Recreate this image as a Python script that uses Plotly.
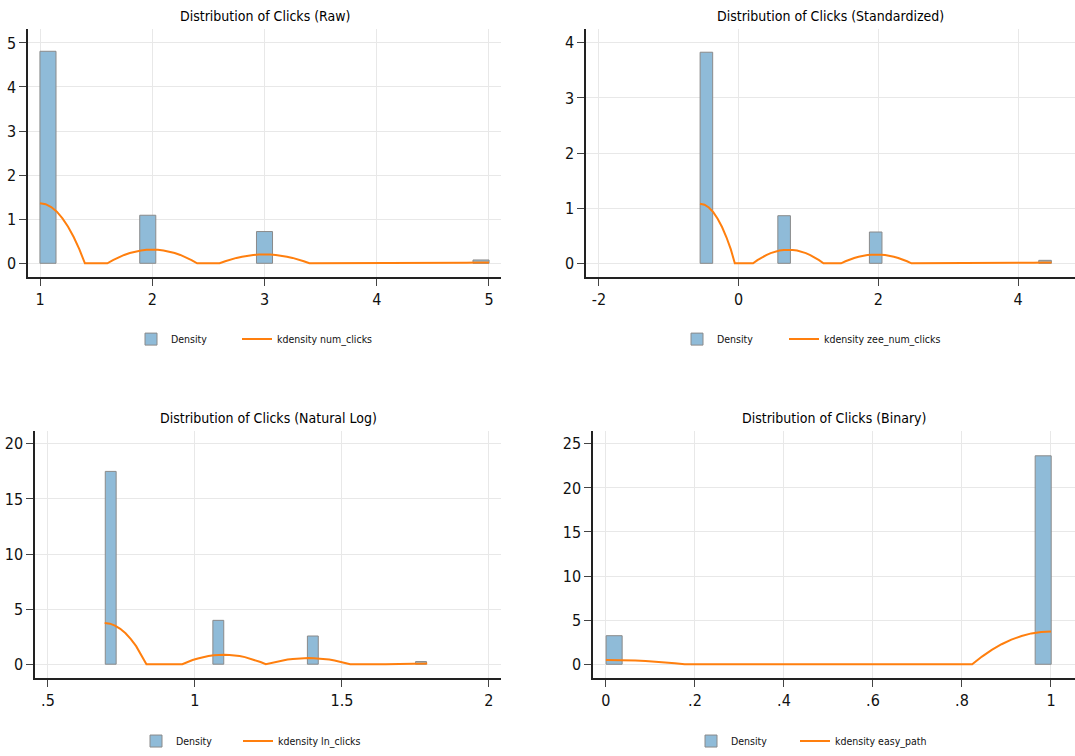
import plotly.graph_objects as go

# ---------------- data ----------------
# Panel 1: raw clicks
raw_bin_centers = [1.071, 1.96, 3.0, 4.929]
raw_bin_width = 0.143
raw_density = [4.81, 1.09, 0.72, 0.075]
raw_kde_x = [1.0, 1.05, 1.1, 1.15, 1.2, 1.25, 1.3, 1.35, 1.4,
             1.6, 1.65, 1.7, 1.75, 1.8, 1.85, 1.9, 1.95, 2.0, 2.05, 2.1, 2.15, 2.2, 2.25, 2.3, 2.35, 2.4,
             2.6, 2.65, 2.7, 2.75, 2.8, 2.85, 2.9, 2.95, 3.0, 3.05, 3.1, 3.15, 3.2, 3.25, 3.3, 3.35, 3.4,
             4.6, 4.7, 4.8, 4.9, 5.0]
raw_kde_y = [1.36, 1.34, 1.275, 1.17, 1.02, 0.83, 0.595, 0.32, 0.0,
             0.0, 0.073, 0.136, 0.189, 0.233, 0.266, 0.29, 0.305, 0.31, 0.305, 0.29, 0.266, 0.233, 0.189, 0.136, 0.073, 0.0,
             0.0, 0.047, 0.088, 0.122, 0.15, 0.172, 0.188, 0.197, 0.2, 0.197, 0.188, 0.172, 0.15, 0.122, 0.088, 0.047, 0.0,
             0.0, 0.009, 0.015, 0.019, 0.02]

# Panel 2: standardized clicks
std_bin_centers = [-0.462, 0.651, 1.962, 4.387]
std_bin_width = 0.18
std_density = [3.83, 0.864, 0.568, 0.054]
std_kde_x = [-0.553, -0.49, -0.427, -0.364, -0.301, -0.238, -0.175, -0.112, -0.055,
             0.206, 0.269, 0.332, 0.395, 0.458, 0.521, 0.584, 0.647, 0.71, 0.773, 0.836, 0.899, 0.962, 1.025, 1.088, 1.151, 1.214,
             1.466, 1.529, 1.592, 1.655, 1.718, 1.781, 1.844, 1.907, 1.97, 2.033, 2.096, 2.159, 2.222, 2.285, 2.348, 2.411, 2.474,
             3.976, 4.102, 4.228, 4.354, 4.48]
std_kde_y = [1.08, 1.063, 1.013, 0.928, 0.81, 0.658, 0.473, 0.253, 0.0,
             0.0, 0.058, 0.108, 0.15, 0.185, 0.211, 0.231, 0.242, 0.246, 0.242, 0.231, 0.211, 0.185, 0.15, 0.108, 0.058, 0.0,
             0.0, 0.037, 0.07, 0.097, 0.119, 0.137, 0.149, 0.156, 0.159, 0.156, 0.149, 0.137, 0.119, 0.097, 0.07, 0.037, 0.0,
             0.0, 0.007, 0.012, 0.015, 0.016]

# Panel 3: natural log of clicks
ln_bin_centers = [0.7135, 1.0795, 1.401, 1.769]
ln_bin_width = 0.037
ln_density = [17.5, 3.98, 2.56, 0.24]
ln_kde_x = [0.693, 0.711, 0.728, 0.746, 0.764, 0.782, 0.8, 0.817, 0.835,
            0.957, 0.975, 0.992, 1.01, 1.028, 1.046, 1.064, 1.081, 1.099, 1.117, 1.135, 1.152, 1.17, 1.188, 1.206, 1.223, 1.241,
            1.262, 1.279, 1.297, 1.315, 1.333, 1.351, 1.368, 1.386, 1.404, 1.422, 1.439, 1.457, 1.475, 1.493, 1.51, 1.528,
            1.648, 1.683, 1.719, 1.754, 1.79]
ln_kde_y = [3.74, 3.68, 3.51, 3.21, 2.805, 2.28, 1.64, 0.875, 0.0,
            0.0, 0.201, 0.376, 0.516, 0.645, 0.739, 0.806, 0.846, 0.86, 0.846, 0.806, 0.739, 0.645, 0.516, 0.376, 0.201, 0.0,
            0.131, 0.245, 0.341, 0.42, 0.481, 0.525, 0.551, 0.56, 0.551, 0.525, 0.481, 0.42, 0.341, 0.245, 0.131, 0.0,
            0.0, 0.024, 0.041, 0.052, 0.055]

# Panel 4: binary
bin_bin_centers = [0.0185, 0.9825]
bin_bin_width = 0.036
bin_density = [3.24, 23.64]
bin_kde_x = [0.0, 0.022, 0.044, 0.066, 0.089, 0.111, 0.133, 0.155, 0.177,
             0.823, 0.845, 0.867, 0.889, 0.911, 0.934, 0.956, 0.978, 1.0]
bin_kde_y = [0.49, 0.482, 0.459, 0.421, 0.368, 0.298, 0.214, 0.115, 0.0,
             0.0, 0.873, 1.632, 2.27, 2.8, 3.205, 3.5, 3.67, 3.73]

titles = ["Distribution of Clicks (Raw)", "Distribution of Clicks (Standardized)",
          "Distribution of Clicks (Natural Log)", "Distribution of Clicks (Binary)"]
kde_names = ["kdensity num_clicks", "kdensity zee_num_clicks",
             "kdensity ln_clicks", "kdensity easy_path"]

# ---------------- styling ----------------
FONT = "DejaVu Sans Condensed, Liberation Sans Narrow, Arial Narrow, sans-serif"
BAR_FILL = "#8fbbd8"
BAR_EDGE = "#8a8a8a"
KDE_COLOR = "#ff7f0e"
GRID = "#e8e8e8"
AXIS = "#222222"

W, H = 1075, 756

panels = [
    dict(centers=raw_bin_centers, width=raw_bin_width, dens=raw_density,
         kx=raw_kde_x, ky=raw_kde_y,
         xdom=(28, 501), ydom=(29, 278), xr=(0.893, 5.107), yr=(-0.317, 5.317),
         xt=[1, 2, 3, 4, 5], xtl=["1", "2", "3", "4", "5"],
         yt=[0, 1, 2, 3, 4, 5], ytl=["0", "1", "2", "3", "4", "5"],
         legy=340, leg_x=(131, 237)),
    dict(centers=std_bin_centers, width=std_bin_width, dens=std_density,
         kx=std_kde_x, ky=std_kde_y,
         xdom=(586, 1075), ydom=(29, 278), xr=(-2.186, 4.816), yr=(-0.253, 4.253),
         xt=[-2, 0, 2, 4], xtl=["-2", "0", "2", "4"],
         yt=[0, 1, 2, 3, 4], ytl=["0", "1", "2", "3", "4"],
         legy=340, leg_x=(677, 784)),
    dict(centers=ln_bin_centers, width=ln_bin_width, dens=ln_density,
         kx=ln_kde_x, ky=ln_kde_y,
         xdom=(35, 501), ydom=(432, 680), xr=(0.456, 2.041), yr=(-1.27, 21.18),
         xt=[0.5, 1, 1.5, 2], xtl=[".5", "1", "1.5", "2"],
         yt=[0, 5, 10, 15, 20], ytl=["0", "5", "10", "15", "20"],
         legy=743, leg_x=(136, 238)),
    dict(centers=bin_bin_centers, width=bin_bin_width, dens=bin_density,
         kx=bin_kde_x, ky=bin_kde_y,
         xdom=(593, 1075), ydom=(432, 680), xr=(-0.029, 1.054), yr=(-1.58, 26.47),
         xt=[0, 0.2, 0.4, 0.6, 0.8, 1], xtl=["0", ".2", ".4", ".6", ".8", "1"],
         yt=[0, 5, 10, 15, 20, 25], ytl=["0", "5", "10", "15", "20", "25"],
         legy=743, leg_x=(691, 795)),
]

fig = go.Figure()
layout = dict(width=W, height=H, autosize=False,
              margin=dict(l=0, r=0, t=0, b=0),
              paper_bgcolor="white", plot_bgcolor="white",
              barmode="overlay", showlegend=True,
              font=dict(family=FONT, color="#111"),
              annotations=[])


def legend_box(xpx, ypx):
    return dict(orientation="h", x=xpx / W, xanchor="left",
                y=(H - ypx) / H, yanchor="middle",
                bgcolor="rgba(0,0,0,0)", borderwidth=0,
                font=dict(size=10.5, family=FONT, color="#111"),
                itemwidth=30, visible=True)


for i, p in enumerate(panels):
    n = i + 1
    xa = "x" if n == 1 else f"x{n}"
    ya = "y" if n == 1 else f"y{n}"
    leg_a = "legend" if i == 0 else f"legend{2 * i + 1}"
    leg_b = f"legend{2 * i + 2}"
    fig.add_trace(go.Bar(x=p["centers"], y=p["dens"], width=p["width"],
                         marker=dict(color=BAR_FILL, line=dict(color=BAR_EDGE, width=1)),
                         name="Density", xaxis=xa, yaxis=ya, legend=leg_a,
                         showlegend=True))
    fig.add_trace(go.Scatter(x=p["kx"], y=p["ky"], mode="lines",
                             line=dict(color=KDE_COLOR, width=2),
                             name=kde_names[i], xaxis=xa, yaxis=ya, legend=leg_b,
                             showlegend=True))
    xkey = "xaxis" if n == 1 else f"xaxis{n}"
    ykey = "yaxis" if n == 1 else f"yaxis{n}"
    x0, x1 = p["xdom"]
    yt0, yt1 = p["ydom"]
    common = dict(showgrid=True, gridcolor=GRID, gridwidth=1, zeroline=False,
                  showline=True, linecolor=AXIS, linewidth=1.5,
                  ticks="outside", ticklen=7, tickcolor="#444", tickwidth=1,
                  tickfont=dict(size=16, family=FONT, color="#111"))
    layout[xkey] = dict(domain=[x0 / W, min(x1 / W, 1.0)], range=list(p["xr"]),
                        anchor=ya, tickvals=p["xt"], ticktext=p["xtl"], **common)
    layout[ykey] = dict(domain=[(H - yt1) / H, (H - yt0) / H], range=list(p["yr"]),
                        anchor=xa, tickvals=p["yt"], ticktext=p["ytl"], tickangle=0,
                        **common)
    cx = ((x0 + min(x1, W)) / 2) / W
    layout["annotations"].append(dict(text=titles[i], xref="paper", yref="paper",
                                      x=cx, y=(H - (yt0 - 13)) / H,
                                      xanchor="center", yanchor="middle",
                                      showarrow=False,
                                      font=dict(size=14, family=FONT, color="#000")))
    layout[leg_a] = legend_box(p["leg_x"][0], p["legy"])
    layout[leg_b] = legend_box(p["leg_x"][1], p["legy"])

fig.update_layout(**layout)
fig.write_html("out.html")
